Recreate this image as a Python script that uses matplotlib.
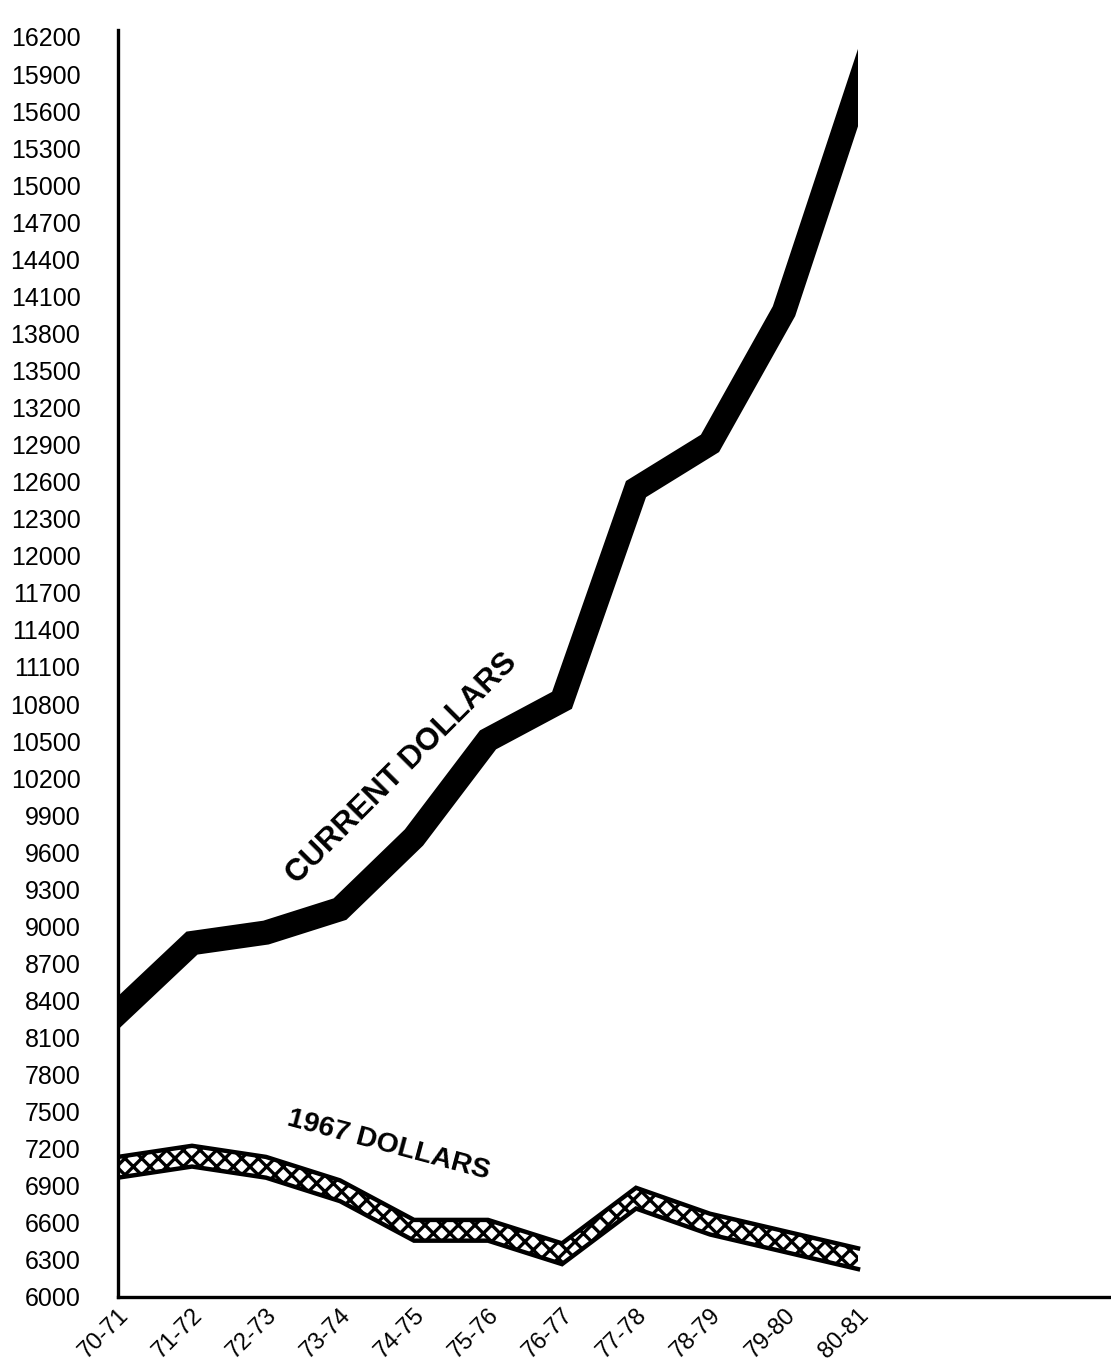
import numpy as np
import matplotlib.pyplot as plt
from matplotlib.patches import Rectangle

# school years on the x axis
years = ['70-71', '71-72', '72-73', '73-74', '74-75', '75-76',
         '76-77', '77-78', '78-79', '79-80', '80-81']

# average salary
current_dollars = [8300, 8865, 8950, 9140, 9720, 10510, 10830, 12540, 12910, 13980, 15790]
dollars_1967 = [7050, 7140, 7050, 6860, 6540, 6540, 6350, 6800, 6590, 6450, 6310]

y_ticks = list(range(6000, 16201, 300))

plt.rcParams['font.family'] = ['Liberation Sans', 'DejaVu Sans']
plt.rcParams['hatch.linewidth'] = 2.4

fig = plt.figure(figsize=(11.11, 13.68), dpi=100)
ax = fig.add_axes([118 / 1111, 71 / 1368, 993 / 1111, 1267 / 1368])

x = np.arange(len(years))

# current dollars: thick black ribbon, cut off square at first and last year
xc = np.concatenate(([x[0] - 1], x, [x[-1] + 1]))
yc = np.array(current_dollars, dtype=float)
yc = np.concatenate(([2 * yc[0] - yc[1]], yc, [2 * yc[-1] - yc[-2]]))
line, = ax.plot(xc, yc, color='black', lw=17.5, solid_joinstyle='miter',
                solid_capstyle='butt')
clip = Rectangle((x[0], 5000), x[-1] - x[0], 12000, transform=ax.transData)
line.set_clip_path(clip)

# 1967 dollars: cross-hatched ribbon with black borders
half = 84
y67 = np.array(dollars_1967, dtype=float)
ax.fill_between(x, y67 - half, y67 + half, facecolor='white',
                edgecolor='black', hatch='xx', linewidth=0)
ax.plot(x, y67 + half, color='black', lw=3.2, solid_joinstyle='miter')
ax.plot(x, y67 - half, color='black', lw=3.2, solid_joinstyle='miter')

ax.text(3.84, 10280, 'CURRENT DOLLARS', rotation=45, ha='center', va='center',
        rotation_mode='anchor', fontsize=22.5, fontweight='bold')
ax.text(3.66, 7230, '1967 DOLLARS', rotation=-15, ha='center', va='center',
        rotation_mode='anchor', fontsize=20.5, fontweight='bold')

ax.set_xlim(0, 993 / 74)
ax.set_ylim(6000, 6000 + 1267 * 300 / 37.06)
ax.set_yticks(y_ticks)
ax.set_yticklabels([str(v) for v in y_ticks], fontsize=18)
ax.set_xticks(x)
ax.set_xticklabels(years, fontsize=17, rotation=45, ha='right', va='top',
                   rotation_mode='anchor')

ax.tick_params(axis='y', length=0, pad=27)
ax.tick_params(axis='x', length=0, pad=5)

for side in ['top', 'right']:
    ax.spines[side].set_visible(False)
for side in ['left', 'bottom']:
    ax.spines[side].set_linewidth(2.4)

fig.savefig('out.png', dpi=100)
